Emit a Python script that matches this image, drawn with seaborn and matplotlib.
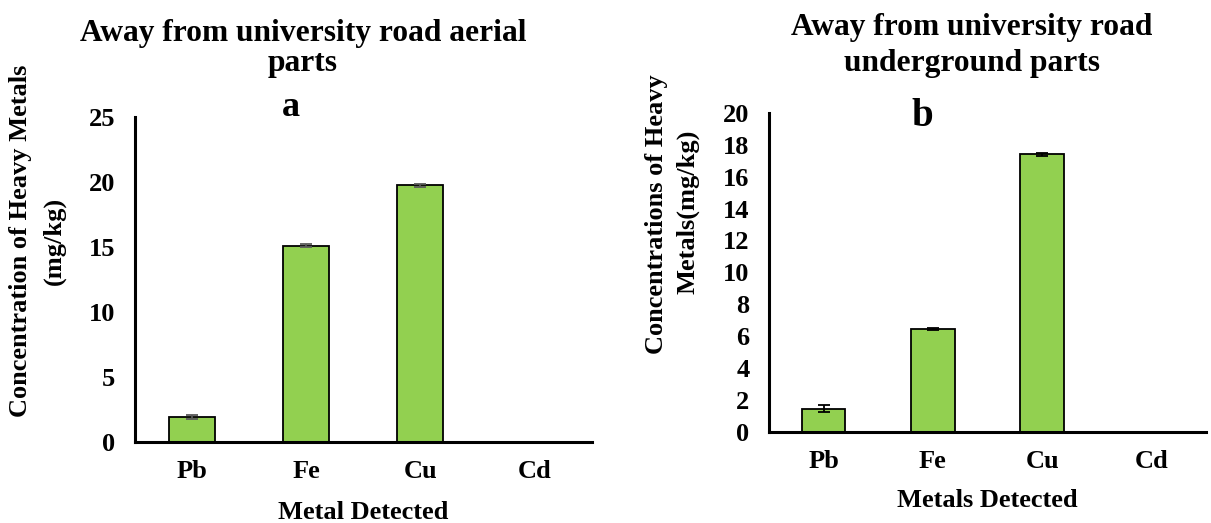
import matplotlib
matplotlib.use("Agg")
import matplotlib.pyplot as plt
import pandas as pd
import seaborn as sns

metais = ["Pb", "Fe", "Cu", "Cd"]

# painel a: partes aereas
aereas_media = [1.9, 15.1, 19.75, 0.0]
aereas_erro = [0.15, 0.12, 0.12, 0.0]

# painel b: partes subterraneas
subterraneas_media = [1.45, 6.45, 17.4, 0.0]
subterraneas_erro = [0.2, 0.08, 0.12, 0.0]

sns.set_style("white")
plt.rcParams["font.family"] = ["Liberation Serif", "DejaVu Serif"]
plt.rcParams["font.weight"] = "bold"
for chave in ("text.color", "axes.labelcolor", "xtick.color", "ytick.color"):
    plt.rcParams[chave] = "black"

W, H = 1211, 523
fig = plt.figure(figsize=(W / 100, H / 100), dpi=100)


def px(x, y):
    return x / W, 1 - y / H


def eixo(x0, x1, y0, y1):
    return fig.add_axes([x0 / W, 1 - y1 / H, (x1 - x0) / W, (y1 - y0) / H])


def texto(x, y, s, tamanho, rot=0):
    fig.text(*px(x, y), s, ha="center", va="center", fontsize=tamanho,
             fontweight="bold", rotation=rot, color="black")


def painel(ax, medias, erros, cor_erro, topo, passo, rotulo_x, pad_x):
    df = pd.DataFrame({"metal": metais, "valor": medias})
    sns.barplot(
        data=df, x="metal", y="valor", color="#92D050", saturation=1,
        width=0.4, edgecolor="black", linewidth=1.3, errorbar=None, ax=ax,
    )
    idx = [i for i, v in enumerate(medias) if v > 0]
    ax.errorbar(
        idx, [medias[i] for i in idx], yerr=[erros[i] for i in idx],
        fmt="none", ecolor=cor_erro, elinewidth=1.3, capsize=4.5, capthick=1.3,
    )
    ax.set_xlim(-0.5, 3.5)
    ax.set_ylim(0, topo)
    ax.set_yticks(range(0, topo + 1, passo))
    ax.tick_params(axis="both", length=0, labelsize=19)
    ax.tick_params(axis="y", pad=14)
    ax.tick_params(axis="x", pad=13)
    for lbl in ax.get_xticklabels() + ax.get_yticklabels():
        lbl.set_fontweight("bold")
    ax.set_xlabel(rotulo_x, fontsize=19, fontweight="bold", labelpad=pad_x)
    ax.set_ylabel("")
    sns.despine(ax=ax)
    for lado in ("left", "bottom"):
        ax.spines[lado].set_linewidth(2.2)
        ax.spines[lado].set_color("black")


ax1 = eixo(134.7, 591.7, 117, 442)
painel(ax1, aereas_media, aereas_erro, "#595959", 25, 5, "Metal Detected", 13)

ax2 = eixo(769, 1206, 113, 431.7)
painel(ax2, subterraneas_media, subterraneas_erro, "black", 20, 2, "Metals Detected", 12)

texto(303, 33, "Away from university road aerial", 22.7)
texto(303, 64, "parts", 22.7)
texto(972, 28, "Away from university road", 22.7)
texto(972, 64, "underground parts", 22.7)
texto(291, 108, "a", 26)
texto(922, 116, "b", 28)

texto(21, 241, "Concentration of Heavy Metals", 19, 90)
texto(54, 241, "(mg/kg)", 19, 90)
texto(656, 214, "Concentrations of Heavy", 19, 90)
texto(688, 212, "Metals(mg/kg)", 19, 90)

fig.savefig("out.png", dpi=100)
